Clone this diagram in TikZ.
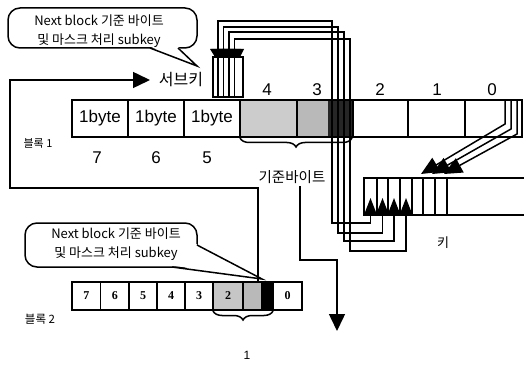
\documentclass[tikz,border=0pt]{standalone}
\usepackage{fontspec}
\setmainfont{Liberation Sans}
\newfontfamily\kr{Noto Sans CJK KR}
\newfontfamily\serifb{Liberation Serif}
\usetikzlibrary{arrows.meta,decorations.pathreplacing}
\begin{document}
\begin{tikzpicture}[x=1pt,y=-1pt, line width=1.5pt,
  cellA/.style={draw, minimum height=37pt, inner sep=0pt, font=\fontsize{17}{17}\selectfont},
  cellB/.style={draw, minimum height=28pt, inner sep=0pt, font=\serifb\bfseries\fontsize{12}{12}\selectfont},
  lab/.style={inner sep=0pt, font=\fontsize{17}{17}\selectfont},
  krlab/.style={inner sep=0pt, font=\kr\fontsize{16}{16}\selectfont},
  callout/.style={inner sep=0pt, align=center, font=\kr\fontsize{13}{19}\selectfont},
  bigtip/.style={-{Triangle[width=16pt,length=17pt]}},
  bracedown/.style={decorate, decoration={brace, mirror, amplitude=9pt}}
]
\useasboundingbox (0,0) rectangle (524,366);

% ---------- block 1 fills ----------
\fill[gray!40] (240,100) rectangle (297,137);
\fill[gray!55] (297,100) rectangle (328,137);
\fill[black!85] (328,100) rectangle (353,137);

% ---------- block 1 cells ----------
\node[cellA, minimum width=56pt] (c7) at (100,118.5) {1byte};
\node[cellA, minimum width=56pt] (c6) at (156,118.5) {1byte};
\node[cellA, minimum width=56pt] (c5) at (212,118.5) {1byte};
\node[cellA, minimum width=57pt] (c4) at (268.5,118.5) {};
\node[cellA, minimum width=56pt] (c3) at (325,118.5) {};
\node[cellA, minimum width=55pt] (c2) at (380.5,118.5) {};
\node[cellA, minimum width=57pt] (c1) at (436.5,118.5) {};
\node[cellA, minimum width=57pt] (c0) at (493.5,118.5) {};

\node[lab] (l4) at (267,90) {4};
\node[lab] (l3) at (317,90) {3};
\node[lab] (l2) at (380,90) {2};
\node[lab] (l1) at (437,90) {1};
\node[lab] (l0) at (492,90) {0};
\node[lab] (l7) at (97,158) {7};
\node[lab] (l6) at (156,158) {6};
\node[lab] (l5) at (207,158) {5};

\node[inner sep=0pt, font=\kr\fontsize{11}{11}\selectfont] (blk1) at (38,143) {블록 1};

\draw[bracedown] (240,138) -- (352,138);
\node[krlab, font=\kr\fontsize{14.5}{14.5}\selectfont] (kj) at (292,177) {기준바이트};

% ---------- subkey box ----------
\node[krlab] (sbk) at (181,80) {서브키};
\node[draw, minimum width=30pt, minimum height=40pt, inner sep=0pt] (sub) at (228,77) {};

% ---------- key box ----------
\draw (524,178) -- (364,178) -- (364,215) -- (524,215);
\foreach \kx in {377,388,400,412,423,435,447} \draw (\kx,178) -- (\kx,215);
\node[inner sep=0pt, font=\kr\fontsize{13}{13}\selectfont] (key) at (443,243) {키};

% ---------- bus lines ----------
\foreach \tx/\ty/\rx/\by/\kx [count=\i] in {218/21/332/223/370.5, 223.5/27/338/233/382.5, 229/32/344/241/394, 234.5/39/350/251/406} {
  \coordinate (sk\i) at (\tx,57);
  \coordinate (ky\i) at (\kx,198);
  \draw (\tx,57) -- (\tx,97);
  \draw[{Triangle[width=13pt,length=8pt]}-{Triangle[width=12pt,length=16pt]}]
    (sk\i) |- (\rx,\ty) |- (\kx,\by) -- (ky\i);
}
% merged heads of the four downward arrows
\fill (210,49) -- (244,49) -- (240,57) -- (215,57) -- cycle;

% ---------- diagonal arrows from cell 0 ----------
\foreach \vx/\vy/\kx [count=\i] in {505/124/421, 511/129/432, 517/134/444} {
  \coordinate (dg\i) at (\kx,174);
  \draw[-{Triangle[width=16pt,length=18pt]}] (\vx,100) -- (\vx,\vy) -- (dg\i);
}

% ---------- block 2 ----------
\fill[gray!45] (213,282) rectangle (243,310);
\fill[gray!55] (243,282) rectangle (261,310);
\fill[black] (261,282) rectangle (273,310);
\node[cellB, minimum width=28.5pt] (d7) at (86.25,296) {7};
\node[cellB, minimum width=28.5pt] (d6) at (114.75,296) {6};
\node[cellB, minimum width=28pt] (d5) at (143,296) {5};
\node[cellB, minimum width=28pt] (d4) at (171,296) {4};
\node[cellB, minimum width=28pt] (d3) at (199,296) {3};
\node[cellB, minimum width=30pt] (d2) at (228,296) {2};
\node[cellB, minimum width=30pt] (d1) at (258,296) {};
\node[cellB, minimum width=29pt] (d0) at (287.5,296) {0};
\draw[bracedown] (213,311) -- (273,311);
\node[inner sep=0pt, font=\fontsize{12}{12}\selectfont] (fig) at (247,355) {1};
\node[inner sep=0pt, font=\kr\fontsize{11.5}{11.5}\selectfont] (blk2) at (40,319) {블록 2};

% ---------- feedback path to subkey ----------
\coordinate (fbs) at (258,281);
\coordinate (fbe) at (150,80);
\draw[bigtip] (fbs) |- (10,188) |- (fbe);

% ---------- reference-byte path ----------
\coordinate (kjs) at (300,186);
\coordinate (kje) at (337,331);
\draw[bigtip] (kjs) |- (337,260) -- (kje);

% ---------- callout 1 ----------
\draw[fill=white, rounded corners=12pt] (8,8) rectangle (197,48);
\fill[white] (150,46.5) -- (197,66) -- (178,46.5) -- cycle;
\draw (150,48) -- (197,66) -- (178,48);
\node[callout] (t1) at (99,31) {Next block 기준 바이트\\및 마스크 처리 subkey};

% ---------- callout 2 ----------
\draw[fill=white, rounded corners=12pt] (25,223) rectangle (197,267);
\fill[white] (196,244) -- (262,279) -- (172,265.5) -- (190,250) -- cycle;
\draw (197,245) -- (262,279) -- (172,267);
\node[callout] (t2) at (116,244) {Next block 기준 바이트\\및 마스크 처리 subkey};
\end{tikzpicture}
\end{document}
